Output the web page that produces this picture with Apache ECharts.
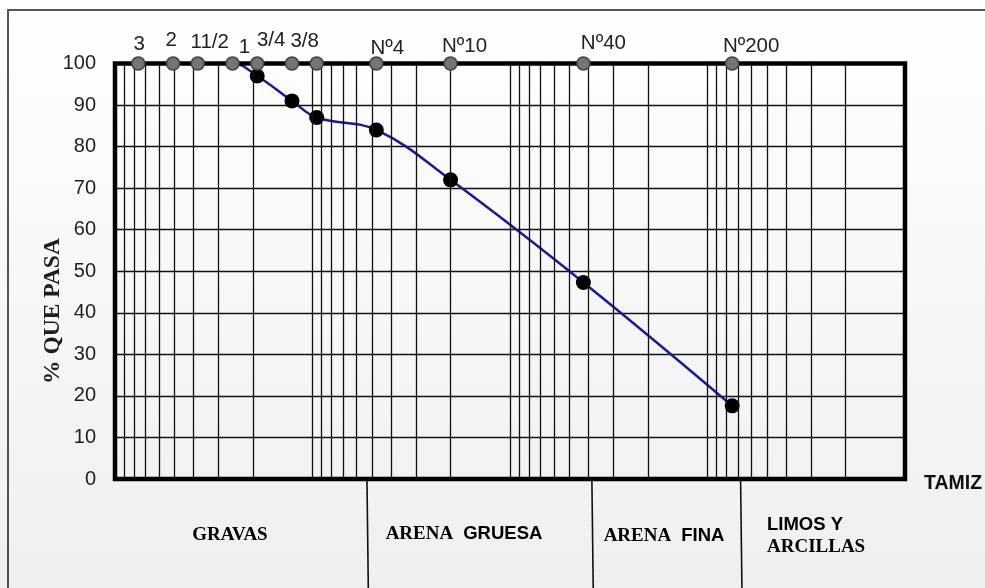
<!DOCTYPE html>
<html>
<head>
<meta charset="utf-8">
<script src="https://cdn.jsdelivr.net/npm/echarts@6/dist/echarts.min.js"></script>
<style>
  html, body { margin: 0; padding: 0; background: #fff; }
  #chart { width: 985px; height: 588px; }
</style>
</head>
<body>
<div id="chart"></div>
<script>
// Sieve series: name, opening in mm and percentage passing
const sieveNames = ['3', '2', '11/2', '1', '3/4', '1/2', '3/8', 'Nº4', 'Nº10', 'Nº40', 'Nº200'];
const sieveSizes = [76.2, 50.8, 38.1, 25.4, 19.05, 12.7, 9.525, 4.75, 2.0, 0.425, 0.075];
const percentPassing = [100, 100, 100, 100, 97, 91, 87, 84, 72, 47.3, 17.6];

// Sieves that carry a caption above the chart (the 1/2" marker has none)
const captionedSieves = ['3', '2', '11/2', '1', '3/4', '3/8', 'Nº4', 'Nº10', 'Nº40', 'Nº200'];

// Axis ranges
const sizeRange = [0.01, 100];      // mm, log scale, coarse on the left
const percentRange = [0, 100];
const percentStep = 10;

// Soil classes below the chart and the grain sizes (mm) separating them
const soilZones = ['GRAVAS', 'ARENA GRUESA', 'ARENA FINA', 'LIMOS Y ARCILLAS'];
const zoneLimits = [5.3, 0.385, 0.068];

const SANS = "'Liberation Sans', Arial, sans-serif";
const SERIF = "'Liberation Serif', 'Times New Roman', serif";

// Caption nudges (dx, dy) relative to each marker centre
const captionNudge = {
  '3': [1, -19], '2': [-2, -23], '11/2': [12, -21], '1': [12, -16],
  '3/4': [14, -23.5], '3/8': [-12, -22], 'Nº4': [11, -15],
  'Nº10': [14, -17], 'Nº40': [20, -20], 'Nº200': [19, -17]
};

// Semi-log paper: a vertical rule at every 1..9 × 10^k inside the range
const paperRules = [];
for (let e = Math.log10(sizeRange[0]); e < Math.log10(sizeRange[1]); e++) {
  for (let m = 1; m <= 9; m++) {
    const v = +(m * Math.pow(10, e)).toPrecision(3);
    if (v > sizeRange[0] && v < sizeRange[1]) paperRules.push(v);
  }
}

const G = { left: 115, top: 63.5, right: 80, bottom: 109 };
const chart = echarts.init(document.getElementById('chart'), null, { renderer: 'canvas' });

const option = {
  animation: false,
  backgroundColor: {
    type: 'linear', x: 0, y: 0, x2: 0, y2: 1,
    colorStops: [{ offset: 0, color: '#ffffff' }, { offset: 1, color: '#efefef' }]
  },
  grid: { left: G.left, top: G.top, right: G.right, bottom: G.bottom, containLabel: false },
  xAxis: {
    type: 'log', logBase: 10, inverse: true,
    min: sizeRange[0], max: sizeRange[1],
    axisLine: { show: false }, axisTick: { show: false },
    axisLabel: { show: false }, splitLine: { show: false }
  },
  yAxis: {
    type: 'value', min: percentRange[0], max: percentRange[1], interval: percentStep,
    axisLine: { show: false }, axisTick: { show: false },
    axisLabel: { margin: 19, fontFamily: SANS, fontSize: 20, color: '#1e1e1e' },
    splitLine: { show: true, lineStyle: { color: '#111', width: 1.3 } }
  },
  series: [
    {
      // vertical rules of the log paper
      name: 'rules', type: 'line', data: [], z: 1, silent: true,
      markLine: {
        silent: true, symbol: ['none', 'none'], animation: false,
        label: { show: false },
        lineStyle: { color: '#111', width: 1.3, type: 'solid' },
        data: paperRules.map(v => ({ xAxis: v }))
      }
    },
    {
      name: '% que pasa', type: 'line', z: 2,
      data: sieveSizes.map((s, i) => [s, percentPassing[i]]),
      smooth: 0.4,
      lineStyle: { color: '#1a1a90', width: 2.5 },
      symbol: 'circle',
      symbolSize: v => (v[1] >= percentRange[1] ? 0 : 15),
      itemStyle: { color: '#000', opacity: 1 }
    },
    {
      name: 'tamices', type: 'scatter', z: 5,
      symbol: 'circle', symbolSize: 13,
      itemStyle: { color: '#757575', borderColor: '#444', borderWidth: 1.6, opacity: 1 },
      data: sieveSizes.map((s, i) => {
        const name = sieveNames[i];
        const shown = captionedSieves.includes(name);
        return {
          value: [s, percentRange[1]],
          label: {
            show: shown, formatter: name, position: 'inside',
            align: 'center', verticalAlign: 'middle',
            offset: shown ? captionNudge[name] : [0, 0],
            fontFamily: SANS, fontSize: 20.5, color: '#222', opacity: 1
          }
        };
      })
    }
  ]
};
chart.setOption(option);

// Plot frame, page frame, class dividers and captions
const px = v => chart.convertToPixel({ xAxisIndex: 0 }, v);
const py = v => chart.convertToPixel({ yAxisIndex: 0 }, v);
const plotL = px(sizeRange[1]), plotR = px(sizeRange[0]);
const plotT = py(percentRange[1]), plotB = py(percentRange[0]);

const elements = [
  { type: 'rect', z: 0, silent: true,
    shape: { x: 8, y: 10, width: 1100, height: 700 },
    style: { fill: 'none', stroke: '#555', lineWidth: 2 } },
  { type: 'rect', z: 3, silent: true,
    shape: { x: plotL, y: plotT, width: plotR - plotL, height: plotB - plotT },
    style: { fill: 'none', stroke: '#000', lineWidth: 4.5 } },
  { type: 'text', z: 6, x: 53, y: 311, rotation: Math.PI / 2,
    style: { text: '% QUE PASA', font: 'bold 23.5px ' + SERIF, fill: '#1e1e1e',
             align: 'center', verticalAlign: 'middle' } },
  { type: 'text', z: 6, x: 953, y: 484,
    style: { text: 'TAMIZ', font: 'bold 19.5px ' + SANS, fill: '#111',
             align: 'center', verticalAlign: 'middle' } }
];

zoneLimits.forEach(v => {
  const x = px(v);
  elements.push({ type: 'line', z: 3, silent: true,
    shape: { x1: x, y1: plotB, x2: x + 1.5, y2: 600 },
    style: { stroke: '#111', lineWidth: 1.6 } });
});

const zoneRich = {
  s: { fontFamily: SERIF, fontWeight: 'bold', fontSize: 19, color: '#1a1a1a' },
  a: { fontFamily: SANS, fontWeight: 'bold', fontSize: 18.5, color: '#1a1a1a' },
  g: { width: 10 }
};
elements.push(
  { type: 'text', z: 6, x: 230, y: 535,
    style: { text: '{s|' + soilZones[0] + '}', rich: zoneRich, align: 'center', verticalAlign: 'middle' } },
  { type: 'text', z: 6, x: 464, y: 534,
    style: { text: '{s|ARENA}{g|}{a|GRUESA}', rich: zoneRich, align: 'center', verticalAlign: 'middle' } },
  { type: 'text', z: 6, x: 664, y: 536,
    style: { text: '{s|ARENA}{g|}{a|FINA}', rich: zoneRich, align: 'center', verticalAlign: 'middle' } },
  { type: 'text', z: 6, x: 767, y: 536,
    style: { text: '{a|LIMOS Y}\n{s|ARCILLAS}', rich: zoneRich, align: 'left', verticalAlign: 'middle', lineHeight: 22.5 } }
);

chart.setOption({ graphic: { elements } });
</script>
</body>
</html>
